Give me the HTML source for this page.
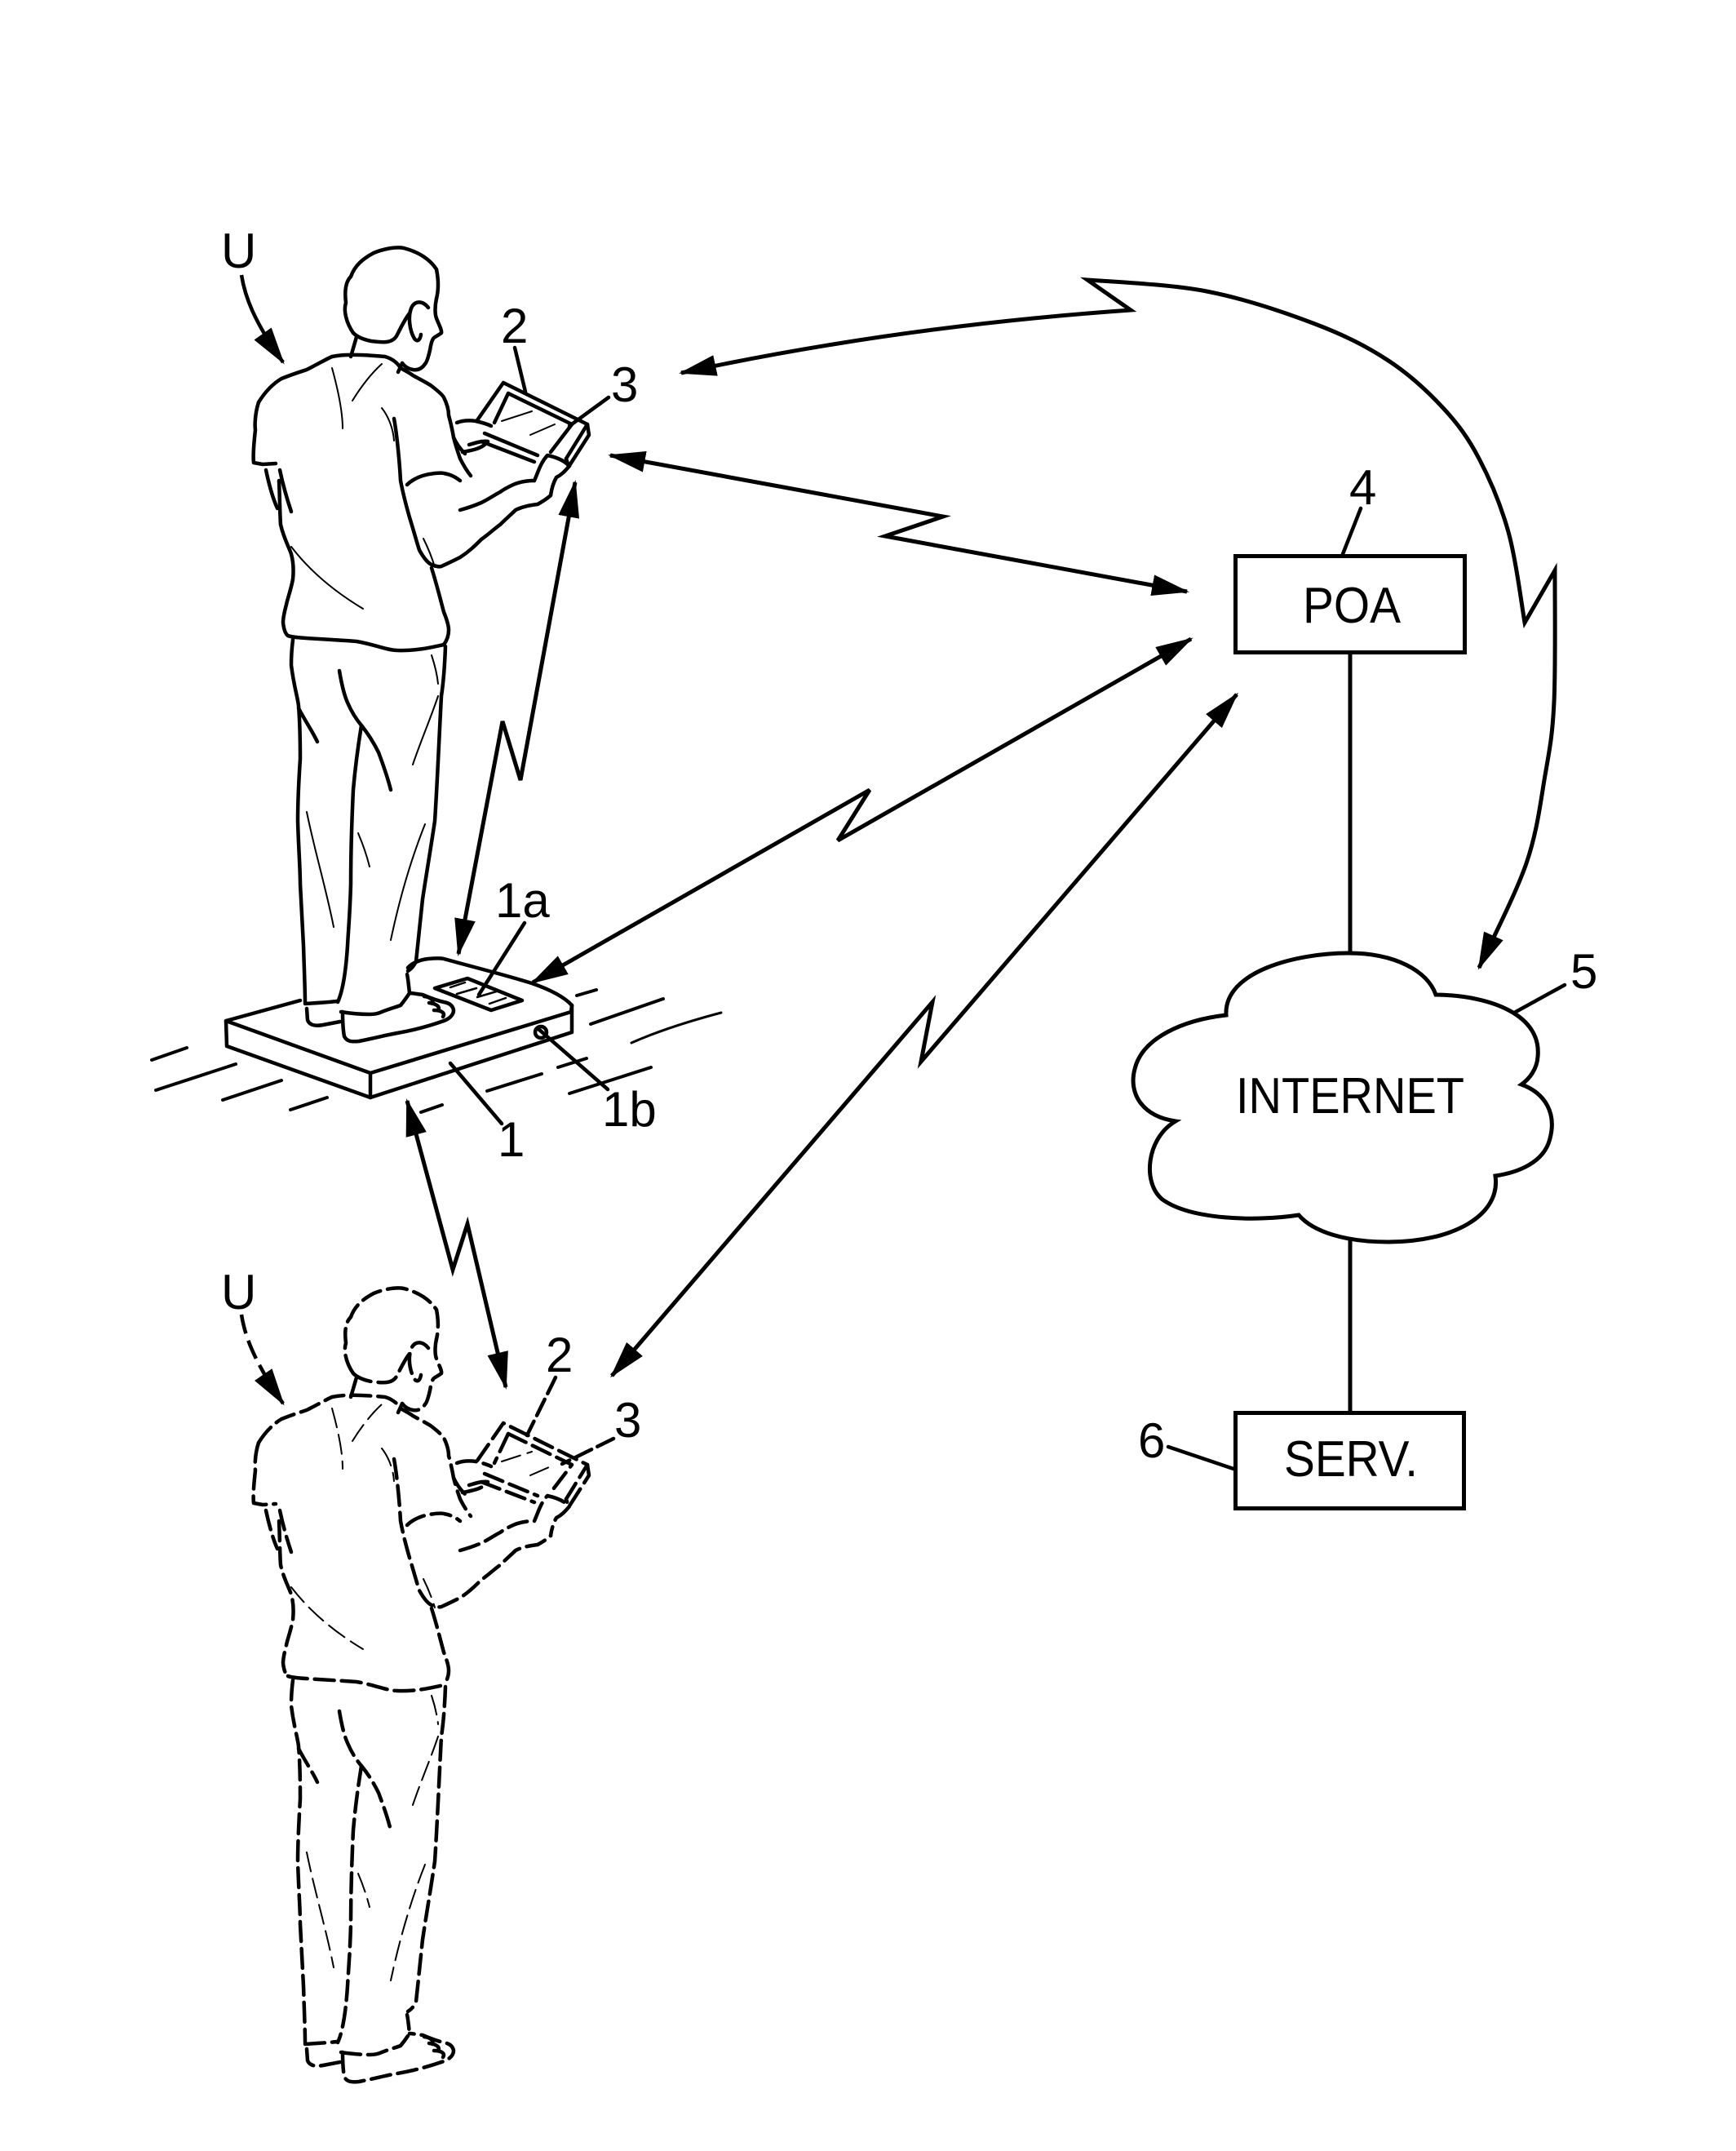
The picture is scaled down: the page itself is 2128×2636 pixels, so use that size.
<!DOCTYPE html>
<html>
<head>
<meta charset="utf-8">
<style>
html,body{margin:0;padding:0;background:#fff;}
svg{display:block;}
text{font-family:"Liberation Sans",Arial,sans-serif;fill:#000;}
</style>
</head>
<body>
<svg width="2128" height="2636" viewBox="0 0 2128 2636" xmlns="http://www.w3.org/2000/svg">
<defs>
<marker id="ah" viewBox="0 0 46 26" refX="43" refY="13" markerWidth="46" markerHeight="26" markerUnits="userSpaceOnUse" orient="auto-start-reverse">
<path d="M0,0 L46,13 L0,26 Z" fill="#000"/>
</marker>
<g id="person" fill="none" stroke-linecap="round" stroke-linejoin="round">
  <!-- head -->
  <path d="M433,408 C424,395 421,380 424,371 C422,355 424,345 430,339 C435,325 445,317 458,310 C470,305 485,302 495,304 C510,308 525,315 535,330 C538,345 537,358 535,366"/>
  <path d="M535,366 C533,375 533,385 535,390 C538,398 542,405 541,408 C536,412 532,413 531,415 C528,420 528,425 527,429 C525,438 523,444 521,446 C517,452 512,454 506,453 C500,452 496,449 493,445"/>
  <path d="M525,377 C518,368 508,368 504,378 C500,388 502,405 508,415 C512,420 515,416 516,410"/>
  <path d="M433,408 C438,413 445,416 455,418 C470,420 482,421 487,410 C492,400 497,390 502,384"/>
  <path d="M430,437 L437,413"/>
  <path d="M493,445 L488,456"/>
  <!-- shirt -->
  <path d="M317,493 C325,480 335,470 345,464 C360,458 370,455 376,453 C390,446 400,440 407,437 C420,434 440,434 472,437 C482,440 488,446 491,451 C500,456 505,459 506,460 C515,465 525,470 529,473 C538,480 543,485 544,487 C548,495 550,503 550,509 C553,520 555,530 556,536 C559,548 562,556 564,562 C568,570 573,578 577,583"/>
  <path d="M317,493 C313,505 312,520 313,527 C311,545 310,560 311,567 L322,569 L338,568"/>
  <path d="M326,576 C330,595 335,612 340,623"/>
  <path d="M343,576 C347,595 352,612 357,627"/>
  <path d="M342,589 C343,610 343,630 344,643 C348,660 354,670 357,679 C360,690 360,700 359,710 C356,725 352,735 351,741 C348,752 347,760 347,763 C348,772 350,777 353,779"/>
  <path d="M353,779 C360,782 380,782 437,786 C460,790 475,797 487,797 C510,798 530,793 544,790"/>
  <path d="M529,696 C535,715 540,735 544,750 C548,760 550,767 550,772 C550,780 547,786 544,790"/>
  <path d="M499,594 C505,588 512,585 518,583 C528,580 540,579 544,580 C555,582 560,586 564,589"/>
  <path d="M483,513 C487,535 490,570 491,589 C494,605 498,620 502,634 C507,650 511,665 514,674 C520,685 525,690 529,692 C535,694 538,695 541,694 C550,690 558,686 564,683 C575,676 583,668 590,661 C600,654 607,647 613,643 C620,636 627,630 632,625 C642,620 652,619 659,618 C666,614 672,610 675,607"/>
  <path d="M564,625 C575,622 583,619 590,616 C600,611 607,606 613,603 C620,598 625,596 629,594 C638,590 648,589 655,589"/>
  <path d="M655,589 C660,578 662,568 671,558 C680,560 690,563 698,571 C692,578 688,582 682,585 C678,592 676,600 675,607"/>
  <path d="M560,518 C568,515 576,515 583,516 C592,518 598,520 602,522"/>
  <path d="M575,545 C585,542 592,540 598,541"/>
  <path d="M567,554 C578,552 588,550 594,545"/>
  <path d="M556,536 C560,545 566,552 570,556"/>
  <!-- tablet -->
  <path d="M585,515 L617,469 L720,520 L694,562"/>
  <path d="M720,520 L722,533 L697,572 L694,562"/>
  <path d="M594,531 L659,558"/>
  <path d="M590,541 L655,566"/>
  <path d="M623,482 L701,520 L675,554"/>
  <path d="M623,482 L606,518"/>
  <!-- creases (thin) -->
  <g stroke-width="2">
    <path d="M407,451 C415,480 420,505 420,525"/>
    <path d="M432,491 C445,470 458,455 468,446"/>
    <path d="M357,670 C380,700 410,725 445,746"/>
    <path d="M468,500 C476,510 482,525 483,540"/>
    <path d="M519,660 C525,672 530,685 533,695"/>
    <path d="M615,516 L652,504"/>
    <path d="M650,533 L680,520"/>
    <path d="M529,803 C533,815 536,828 537,838"/>
    <path d="M537,853 C528,880 515,910 506,937"/>
    <path d="M376,995 C385,1040 400,1090 409,1136"/>
    <path d="M439,1021 C445,1035 450,1050 453,1062"/>
    <path d="M521,1010 C505,1050 490,1100 479,1152"/>
  </g>
  <!-- legs -->
  <path d="M359,784 C357,800 357,810 357,815 C360,840 365,855 366,865 C368,890 368,915 368,930 C366,960 365,990 365,1006 C366,1040 368,1065 368,1083 C370,1120 371,1140 372,1159 C373,1190 374,1215 374,1228"/>
  <path d="M366,868 C375,885 384,898 389,909"/>
  <path d="M374,1230 C390,1229 405,1228 413,1227"/>
  <path d="M376,1236 L377,1250 C379,1256 386,1258 396,1256 L417,1252"/>
  <path d="M443,889 C438,920 435,945 433,968 C431,1010 430,1050 430,1083 C429,1120 427,1140 426,1159 C424,1190 420,1215 414,1228"/>
  <path d="M416,822 C419,840 422,852 426,861 C432,875 438,883 443,889 C452,900 458,910 464,922 C470,938 475,952 479,968"/>
  <path d="M546,792 C545,820 543,840 541,853 C538,910 536,960 533,1006 C528,1040 522,1075 518,1102 C515,1130 512,1160 510,1178 C507,1185 503,1188 500,1190"/>
  <path d="M420,1240 C420,1255 421,1265 422,1270 C425,1276 430,1277 440,1276 C460,1272 475,1268 487,1266 C510,1262 530,1256 544,1251 C552,1248 556,1243 556,1238 C555,1232 550,1229 544,1228 C535,1226 525,1222 518,1219 C510,1218 505,1217 502,1217"/>
  <path d="M418,1240 C430,1242 445,1243 453,1243 C462,1243 466,1241 468,1240 C478,1236 486,1234 491,1232 C496,1226 500,1220 502,1217 C501,1208 500,1198 499,1194"/>
  <path d="M520,1221 C528,1222 532,1226 530,1230"/>
  <path d="M526,1229 C535,1230 540,1234 537,1238"/>
  <path d="M532,1238 C542,1238 546,1242 543,1246"/>
</g>
</defs>

<rect width="2128" height="2636" fill="#fff"/>

<!-- floor lines -->
<g stroke="#000" stroke-width="4" fill="none" stroke-linecap="round">
  <path d="M186,1299 L229,1284"/>
  <path d="M191,1336 L289,1304"/>
  <path d="M273,1348 L345,1324"/>
  <path d="M356,1360 L401,1345"/>
  <path d="M516,1363 L542,1354"/>
  <path d="M597,1337 L664,1316"/>
  <path d="M684,1308 L719,1297"/>
  <path d="M698,1340 L798,1308"/>
  <path d="M707,1220 L731,1213"/>
  <path d="M724,1255 L813,1224"/>
  <path d="M774,1278 C810,1262 850,1250 884,1241" stroke-width="3"/>
</g>

<!-- scale -->
<g stroke="#000" stroke-width="4.5" fill="none" stroke-linejoin="round" stroke-linecap="round">
  <path d="M368,1226 L277,1251 L454,1315 L700,1240 L701,1232"/>
  <path d="M277,1251 L278,1282 L454,1345 L701,1265 L701,1232"/>
  <path d="M454,1315 L454,1345"/>
  <path d="M500,1186 C505,1180 515,1176 525,1175 C535,1174 540,1174 544,1175 C580,1185 620,1195 652,1205 C675,1213 692,1222 701,1232"/>
  <path d="M533,1211 L573,1199 L640,1226 L602,1238 Z"/>
  <circle cx="663" cy="1265" r="7"/>
  <g stroke-width="2.5"><path d="M552,1210 L570,1204 M560,1218 L584,1211 M585,1222 L612,1214 M600,1230 L620,1223"/></g>
</g>

<!-- upper person -->
<use href="#person" stroke="#000" stroke-width="4.5"/>
<!-- lower person (dashed) -->
<use href="#person" transform="translate(0,1275)" stroke="#000" stroke-width="4.5" stroke-dasharray="24 9"/>

<!-- arrows -->
<g stroke="#000" stroke-width="5" fill="none" stroke-linejoin="miter">
  <!-- big curved arrow -->
  <path d="M835,457 Q1100,400 1386,380 L1333,343 C1357,345 1432.5,348 1479,357 C1525.5,366 1574.8,382.8 1612,397 C1649.2,411.2 1675.8,424.8 1702,442 C1728.2,459.2 1750.5,480 1769,500 C1787.5,520 1799.7,536.7 1813,562 C1826.3,587.3 1839.7,618.5 1849,652 C1858.3,685.5 1865.7,744.5 1869,763 L1906,699 C1905.8,725.8 1907,818.2 1905,860 C1903,901.8 1899.7,917 1894,950 C1888.3,983 1884.5,1018.7 1871,1058 C1857.5,1097.3 1822.7,1164.7 1813,1186" marker-start="url(#ah)" marker-end="url(#ah)"/>
  <!-- device to POA -->
  <path d="M748,558 L1156,633 L1085,657 L1455,725" marker-start="url(#ah)" marker-end="url(#ah)"/>
  <!-- scale to POA -->
  <path d="M653,1204 L1066,968 L1027,1030 L1460,783" marker-start="url(#ah)" marker-end="url(#ah)"/>
  <!-- lower device to POA -->
  <path d="M750,1686 L1143,1228 L1129,1301 L1516,851" marker-start="url(#ah)" marker-end="url(#ah)"/>
  <!-- scale to upper device -->
  <path d="M705,591 L638,956 L616,884 L562,1169" marker-start="url(#ah)" marker-end="url(#ah)"/>
  <!-- scale to lower device -->
  <path d="M499,1349 L555,1556 L573,1500 L620,1700" marker-start="url(#ah)" marker-end="url(#ah)"/>
  <!-- U arrows -->
  <path d="M296,337 C300,362 310,392 347,444" stroke-width="4.5" marker-end="url(#ah)"/>
  <path d="M296,1611 C300,1636 310,1666 347,1720" stroke-width="4.5" stroke-dasharray="24 9" marker-end="url(#ah)"/>
</g>

<!-- network -->
<g stroke="#000" stroke-width="5" fill="none">
  <rect x="1514.5" y="681.5" width="281" height="118"/>
  <rect x="1514.5" y="1731.5" width="280" height="117"/>
  <line x1="1655" y1="802" x2="1655" y2="1168"/>
  <line x1="1655" y1="1518" x2="1655" y2="1729"/>
  <path d="M1503,1244 C1500,1190 1590,1168 1653,1168 C1710,1168 1750,1190 1760,1219 C1830,1220 1890,1245 1885,1295 C1884,1310 1875,1322 1865,1329 C1895,1340 1908,1365 1900,1395 C1893,1425 1860,1437 1833,1441 C1840,1490 1780,1522 1702,1522 C1650,1522 1610,1510 1592,1489 C1540,1497 1460,1495 1425,1470 C1400,1450 1405,1395 1441,1374 C1400,1368 1383,1340 1391,1310 C1400,1272 1450,1250 1503,1244 Z"/>
</g>

<!-- leader lines -->
<g stroke="#000" stroke-width="4.5" fill="none" stroke-linecap="round">
  <path d="M1668,623 L1646,679"/>
  <path d="M1918,1207 L1858,1240"/>
  <path d="M1432,1773 L1512,1800"/>
  <path d="M643,1131 L587,1219"/>
  <path d="M745,1335 L660,1261"/>
  <path d="M615,1377 L552,1303"/>
  <path d="M631,426 L644,480"/>
  <path d="M746,487 L698,522"/>
  <path d="M681,1688 L646,1759" stroke-dasharray="22 8"/>
  <path d="M752,1763 L689,1794" stroke-dasharray="22 8"/>
</g>

<!-- labels -->
<g font-size="60">
  <text x="271" y="328">U</text>
  <text x="271" y="1604">U</text>
  <text x="614" y="420">2</text>
  <text x="749" y="492">3</text>
  <text x="669" y="1681">2</text>
  <text x="753" y="1761">3</text>
  <text x="1654" y="618">4</text>
  <text x="1925" y="1211">5</text>
  <text x="1395" y="1786">6</text>
  <text x="607" y="1124">1a</text>
  <text x="738" y="1380">1b</text>
  <text x="610" y="1417">1</text>
</g>
<g font-size="62" text-anchor="middle">
  <text x="1657" y="763" textLength="120" lengthAdjust="spacingAndGlyphs">POA</text>
  <text x="1655" y="1364" textLength="280" lengthAdjust="spacingAndGlyphs">INTERNET</text>
  <text x="1656" y="1809" textLength="164" lengthAdjust="spacingAndGlyphs">SERV.</text>
</g>
</svg>
</body>
</html>
